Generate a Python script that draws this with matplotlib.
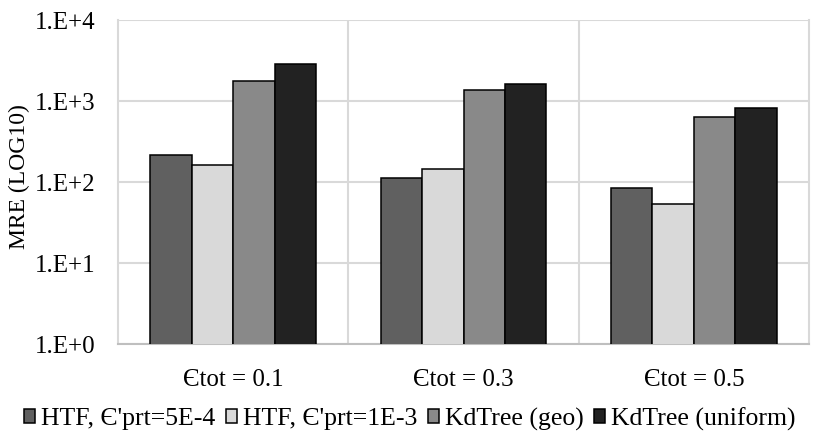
import numpy as np
import matplotlib
matplotlib.use("Agg")
import matplotlib.pyplot as plt
from matplotlib.patches import Patch
from matplotlib.ticker import FixedLocator, FuncFormatter, NullLocator

plt.rcParams["font.family"] = ["Liberation Serif", "DejaVu Serif"]

# data (log scale)
groups = ["\u0404tot = 0.1", "\u0404tot = 0.3", "\u0404tot = 0.5"]
series = ["HTF, \u0404'prt=5E-4", "HTF, \u0404'prt=1E-3",
          "KdTree (geo)", "KdTree (uniform)"]
htf_5e4 = [215, 113, 85]
htf_1e3 = [162, 146, 53]
kd_geo = [1770, 1380, 630]
kd_uni = [2860, 1620, 820]
colors = ["#606060", "#d9d9d9", "#898989", "#222222"]

values = [htf_5e4, htf_1e3, kd_geo, kd_uni]
FS = 18

fig = plt.figure(figsize=(8.2, 4.38), dpi=100)
ax = fig.add_axes([0.1439, 0.2146, 0.8427, 0.7397])

x = np.arange(len(groups))
w = 0.18
for i, (vals, c) in enumerate(zip(values, colors)):
    ax.bar(x + (i - 1.5) * w, vals, w, color=c, edgecolor="black",
           linewidth=1.1, zorder=3)

ax.set_yscale("log")
ax.set_ylim(1, 1e4)
ax.set_xlim(-0.5, 2.5)
ax.yaxis.set_major_locator(FixedLocator([1, 10, 100, 1000, 10000]))
ax.yaxis.set_minor_locator(NullLocator())
ax.yaxis.set_major_formatter(FuncFormatter(lambda v, p: f"1.E+{int(round(np.log10(v)))}"))
ax.grid(axis="y", color="#d9d9d9", lw=1.5, zorder=0)
for xv in [0.5, 1.5]:
    ax.axvline(xv, color="#d9d9d9", lw=1.5, zorder=0)

ax.set_xticks(x, groups)
ax.tick_params(axis="both", length=0, labelsize=FS)
ax.tick_params(axis="y", pad=16)
ax.tick_params(axis="x", pad=18)

ax.spines["top"].set_visible(False)
for s in ["left", "right"]:
    ax.spines[s].set_color("#d9d9d9")
    ax.spines[s].set_linewidth(1.5)
ax.spines["bottom"].set_color("#bfbfbf")
ax.spines["bottom"].set_linewidth(1.5)

ax.set_ylabel("MRE (LOG10)", fontsize=17)
ax.yaxis.set_label_coords(-0.128, 0.518)

handles = [Patch(facecolor=c, edgecolor="black", linewidth=1.1) for c in colors]
fig.legend(handles, series, loc="lower center", bbox_to_anchor=(0.5, -0.036),
           ncol=4, frameon=False, fontsize=18.5, handlelength=0.42,
           handleheight=0.42, handletextpad=0.25, columnspacing=0.4)

fig.savefig("out.png", dpi=100)
